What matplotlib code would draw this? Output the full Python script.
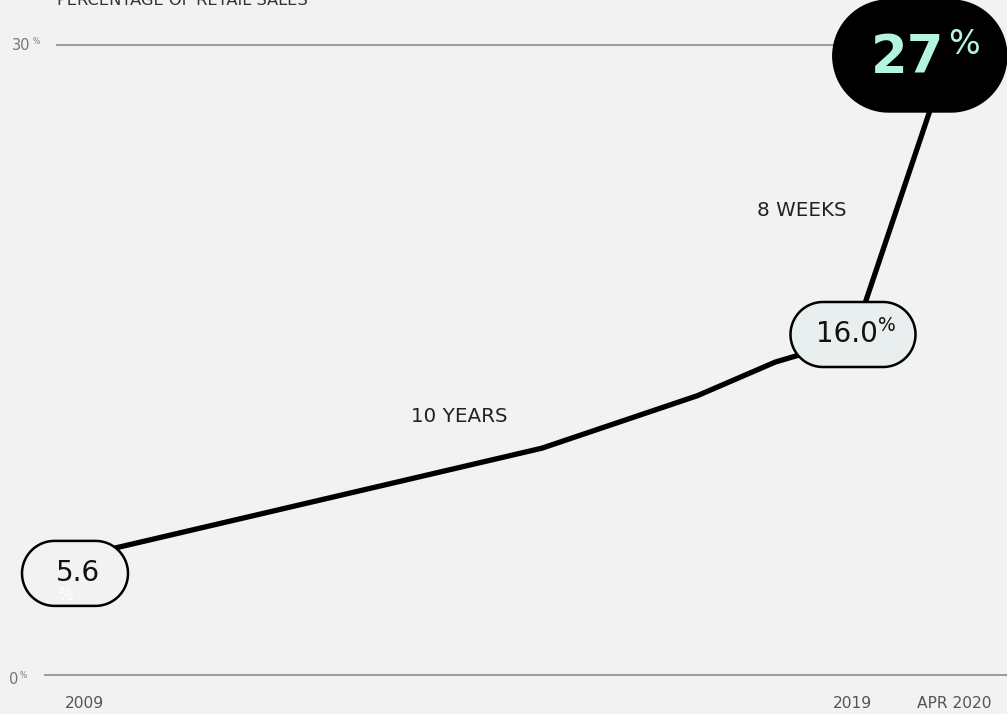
import numpy as np
import matplotlib
matplotlib.use("Agg")
import matplotlib.pyplot as plt
import matplotlib.transforms as mtransforms
from matplotlib.patches import Polygon

# ---------- Data ----------
# online share of retail sales, in percent
years = [2009, 2015, 2017, 2018, 2019, 2020.0]
share = [5.6, 10.8, 13.3, 14.9, 16.0, 27]
year_labels = ["2009", "2019", "APR 2020"]
title = "PERCENTAGE OF RETAIL SALES"
span_labels = ["10 YEARS", "8 WEEKS"]

BG = "#f2f2f2"
MINT = "#b3f5de"
GRID = "#9a9a9a"

plt.rcParams["font.family"] = ["DejaVu Sans"]

# ---------- Figure ----------
fig = plt.figure(figsize=(10.07, 7.14), dpi=100, facecolor=BG)
ax = fig.add_axes([0, 0, 1, 1])
ax.set_facecolor(BG)
ax.axis("off")

# 77.8 px per year, 21 px per percent
px_year, px_pct = 77.8, 21.0
ax.set_xlim(2009 - 75 / px_year, 2009 + (1007 - 75) / px_year)
ax.set_ylim(-39 / px_pct, 30 + 45 / px_pct)

# gridlines at 0% and 30%
ax.plot([2009 - 30 / px_year, ax.get_xlim()[1]], [0, 0], color=GRID, lw=1.4, zorder=1)
ax.plot([2009 - 18 / px_year, 2020], [30, 30], color=GRID, lw=1.4, zorder=1)

# axis value labels
ax.text(2009 - 63 / px_year, 30, "30", fontsize=10.5, color="#777777", ha="left", va="center")
ax.text(2009 - 42 / px_year, 30 + 4 / px_pct, "%", fontsize=5.5, color="#777777", ha="left", va="center")
ax.text(2009 - 66 / px_year, 0 - 4 / px_pct, "0", fontsize=10.5, color="#777777", ha="left", va="center")
ax.text(2009 - 55 / px_year, 0, "%", fontsize=5.5, color="#777777", ha="left", va="center")

# year labels along the bottom
for lab, xpos in zip(year_labels, [2009 + 10 / px_year, 2019, 2019 + 101 / px_year]):
    ax.text(xpos, -28 / px_pct, lab, fontsize=11.2, color="#555555", ha="center", va="center")

fig.text(57 / 1007, 1 - 5 / 714, title, fontsize=11.7, color="#333333", ha="left", va="baseline")

# ---------- Line ----------
ax.plot(years, share, color="black", lw=3.8, solid_capstyle="round",
        solid_joinstyle="round", zorder=3)

ax.text(2009 + 384 / px_year, share[0] + (557 - 416) / px_pct, span_labels[0],
        fontsize=14.3, color="#222222", ha="center", va="center")
ax.text(2009 + 727 / px_year, 30 - (210 - 45) / px_pct, span_labels[1],
        fontsize=14.3, color="#222222", ha="center", va="center")

# ---------- Value boxes ----------
def pill(x, y, w, h, dx, dy, face, edge, lw):
    # stadium-shaped box sized in inches, anchored at a data point
    trans = fig.dpi_scale_trans + mtransforms.ScaledTranslation(x, y, ax.transData)
    r = h / 2
    a = np.linspace(-np.pi / 2, np.pi / 2, 60)
    right = np.column_stack([dx + w / 2 - r + r * np.cos(a), dy + r * np.sin(a)])
    left = np.column_stack([dx - w / 2 + r - r * np.cos(a), dy - r * np.sin(a)])
    box = Polygon(np.vstack([right, left]), closed=True, facecolor=face,
                  edgecolor=edge, lw=lw, transform=trans, zorder=5)
    ax.add_patch(box)
    return trans

t0 = pill(years[0], share[0], 1.06, 0.65, 0, -0.16, BG, "black", 1.8)
ax.text(0.03, -0.155, f"{share[0]:.1f}", fontsize=20, color="#111111",
        ha="center", va="center", transform=t0, zorder=6)
ax.text(-0.10, -0.38, "%", fontsize=12, color="white",
        ha="center", va="center", transform=t0, zorder=6)

t1 = pill(years[4], share[4], 1.25, 0.65, 0, 0.045, "#e9eeee", "black", 1.8)
ax.text(0.25, 0.045, f"{share[4]:.1f}", fontsize=20, color="#111111",
        ha="right", va="center", transform=t1, zorder=6)
ax.text(0.25, 0.135, "%", fontsize=13.5, color="#111111",
        ha="left", va="center", transform=t1, zorder=6)

t2 = pill(years[5], share[5], 1.74, 1.12, -0.11, 0.52, "black", "black", 1)
ax.text(0.14, 0.50, f"{share[5]:.0f}", fontsize=38, color=MINT, fontweight="bold",
        ha="right", va="center", transform=t2, zorder=6)
ax.text(0.17, 0.63, "%", fontsize=24, color=MINT,
        ha="left", va="center", transform=t2, zorder=6)

fig.savefig("out.png", dpi=100, facecolor=BG)
